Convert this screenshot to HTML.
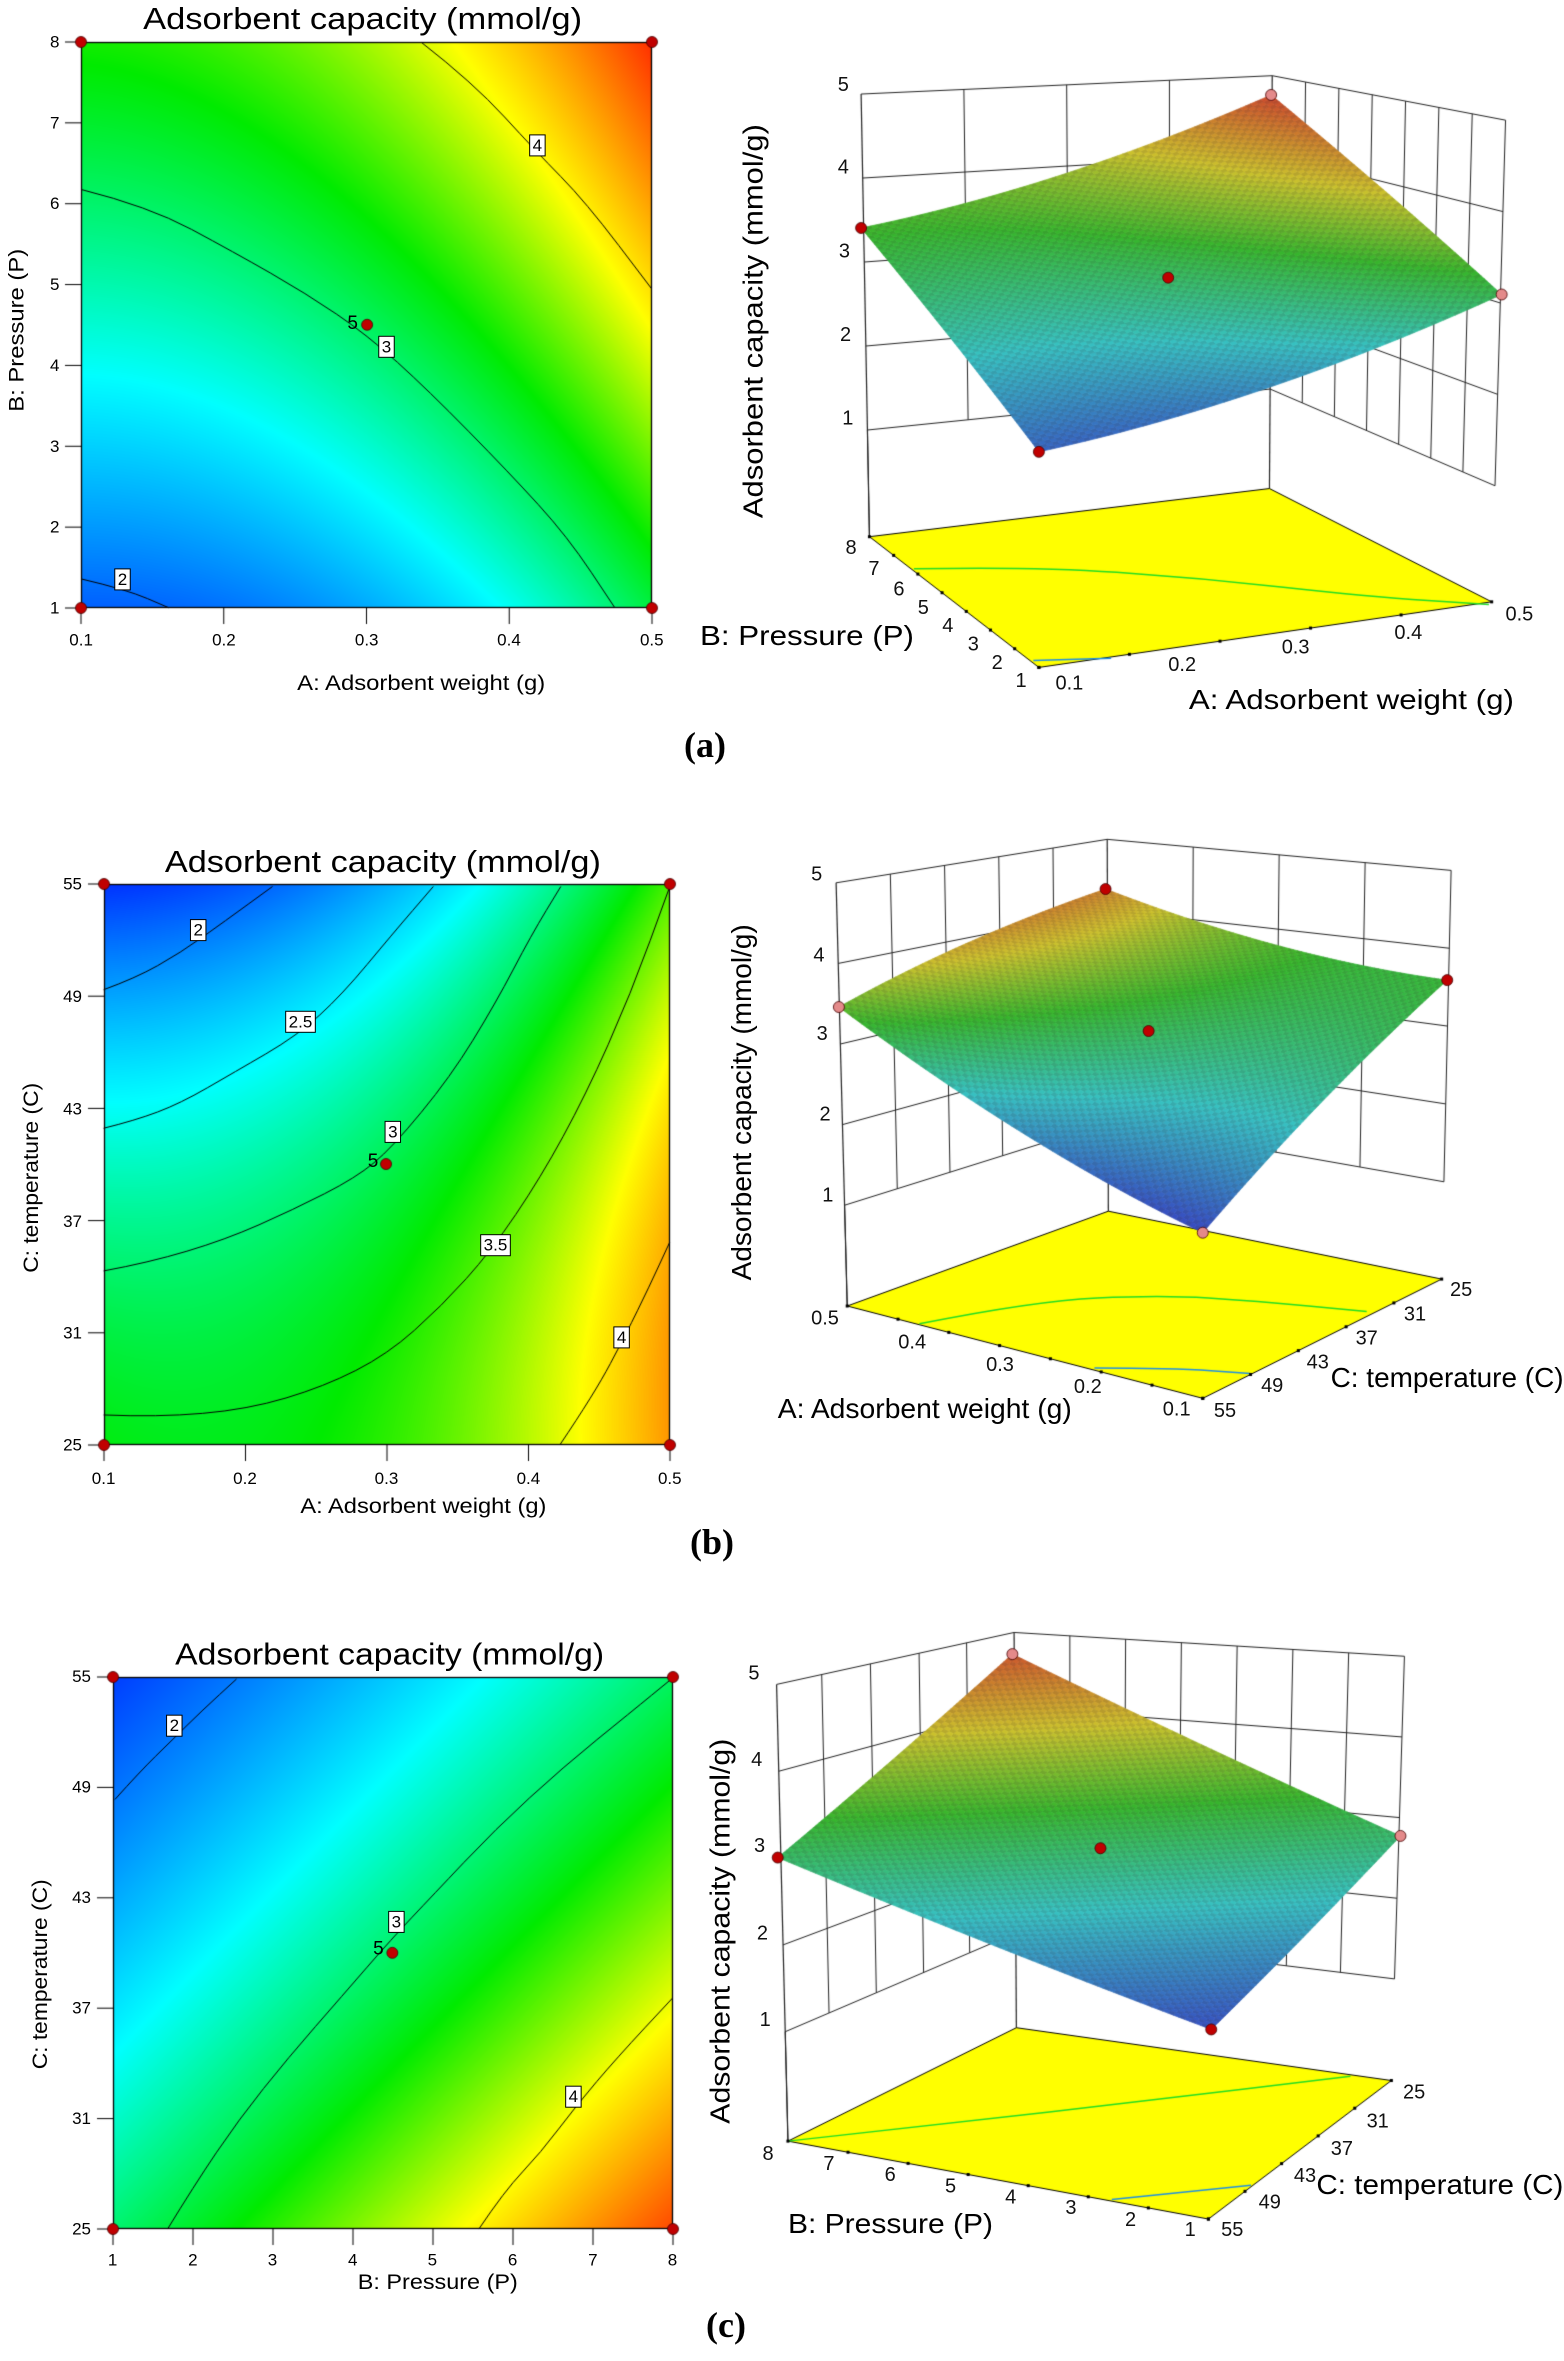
<!DOCTYPE html>
<html><head><meta charset="utf-8">
<style>
html,body{margin:0;padding:0;background:#fff;}
#wrap{position:relative;width:1564px;height:2361px;overflow:hidden;}
canvas,svg{position:absolute;left:0;top:0;}
text{font-family:"Liberation Sans",sans-serif;fill:#000;}
.tt{font-size:31px;}
.tk{font-size:17px;}
.at{font-size:21px;}
.t3{font-size:20px;fill:#111;}
.a3{font-size:28px;}
.lb{font-size:17px;}
.pl{font-family:"Liberation Serif",serif;font-weight:bold;font-size:36px;}
</style></head><body>
<div id="wrap">
<canvas id="c" width="1564" height="2361"></canvas>
<svg id="s" width="1564" height="2361" xmlns="http://www.w3.org/2000/svg">
<g id="lbls"></g>
<g class="fr z4" dominant-baseline="central">
<text class="tt" x="805" y="40" text-anchor="middle" textLength="439" lengthAdjust="spacingAndGlyphs">Adsorbent capacity (mmol/g)</text>
<text class="tk" x="132" y="92" text-anchor="end">8</text>
<text class="tk" x="132" y="268" text-anchor="end">7</text>
<text class="tk" x="132" y="444" text-anchor="end">6</text>
<text class="tk" x="132" y="620" text-anchor="end">5</text>
<text class="tk" x="132" y="797" text-anchor="end">4</text>
<text class="tk" x="132" y="973" text-anchor="end">3</text>
<text class="tk" x="132" y="1149" text-anchor="end">2</text>
<text class="tk" x="132" y="1325" text-anchor="end">1</text>
<text class="tk" x="180" y="1395" text-anchor="middle">0.1</text>
<text class="tk" x="497" y="1395" text-anchor="middle">0.2</text>
<text class="tk" x="814" y="1395" text-anchor="middle">0.3</text>
<text class="tk" x="1130" y="1395" text-anchor="middle">0.4</text>
<text class="tk" x="1447" y="1395" text-anchor="middle">0.5</text>
<text class="at" x="935" y="1490" text-anchor="middle" textLength="248" lengthAdjust="spacingAndGlyphs">A: Adsorbent weight (g)</text>
<text class="at rot" x="38" y="720" text-anchor="middle" textLength="163" lengthAdjust="spacingAndGlyphs">B: Pressure (P)</text>
<text class="lb box" x="1193" y="317" text-anchor="middle">4</text>
<text class="lb box" x="858" y="756" text-anchor="middle">3</text>
<text class="lb box" x="272" y="1263" text-anchor="middle">2</text>
<text class="lb" x="783" y="705" text-anchor="middle" style="font-size:19px">5</text>
</g>
<g class="fr z5" dominant-baseline="central">
<text class="tt" x="850" y="90" text-anchor="middle" textLength="436" lengthAdjust="spacingAndGlyphs">Adsorbent capacity (mmol/g)</text>
<text class="tk" x="182" y="140" text-anchor="end">55</text>
<text class="tk" x="182" y="385" text-anchor="end">49</text>
<text class="tk" x="182" y="630" text-anchor="end">43</text>
<text class="tk" x="182" y="875" text-anchor="end">37</text>
<text class="tk" x="182" y="1118" text-anchor="end">31</text>
<text class="tk" x="182" y="1362" text-anchor="end">25</text>
<text class="tk" x="230" y="1435" text-anchor="middle">0.1</text>
<text class="tk" x="544" y="1435" text-anchor="middle">0.2</text>
<text class="tk" x="858" y="1435" text-anchor="middle">0.3</text>
<text class="tk" x="1173" y="1435" text-anchor="middle">0.4</text>
<text class="tk" x="1487" y="1435" text-anchor="middle">0.5</text>
<text class="at" x="940" y="1497" text-anchor="middle" textLength="246" lengthAdjust="spacingAndGlyphs">A: Adsorbent weight (g)</text>
<text class="at rot" x="70" y="780" text-anchor="middle" textLength="190" lengthAdjust="spacingAndGlyphs">C: temperature (C)</text>
<text class="lb box" x="440" y="240" text-anchor="middle">2</text>
<text class="lb box" x="667" y="440" text-anchor="middle">2.5</text>
<text class="lb box" x="872" y="680" text-anchor="middle">3</text>
<text class="lb box" x="1100" y="927" text-anchor="middle">3.5</text>
<text class="lb box" x="1380" y="1128" text-anchor="middle">4</text>
<text class="lb" x="828" y="745" text-anchor="middle" style="font-size:19px">5</text>
</g>
<g class="fr z6" dominant-baseline="central">
<text class="tt" x="865" y="92" text-anchor="middle" textLength="429" lengthAdjust="spacingAndGlyphs">Adsorbent capacity (mmol/g)</text>
<text class="tk" x="202" y="140" text-anchor="end">55</text>
<text class="tk" x="202" y="372" text-anchor="end">49</text>
<text class="tk" x="202" y="604" text-anchor="end">43</text>
<text class="tk" x="202" y="836" text-anchor="end">37</text>
<text class="tk" x="202" y="1068" text-anchor="end">31</text>
<text class="tk" x="202" y="1300" text-anchor="end">25</text>
<text class="tk" x="250" y="1365" text-anchor="middle">1</text>
<text class="tk" x="428" y="1365" text-anchor="middle">2</text>
<text class="tk" x="605" y="1365" text-anchor="middle">3</text>
<text class="tk" x="783" y="1365" text-anchor="middle">4</text>
<text class="tk" x="960" y="1365" text-anchor="middle">5</text>
<text class="tk" x="1138" y="1365" text-anchor="middle">6</text>
<text class="tk" x="1316" y="1365" text-anchor="middle">7</text>
<text class="tk" x="1493" y="1365" text-anchor="middle">8</text>
<text class="at" x="972" y="1412" text-anchor="middle" textLength="160" lengthAdjust="spacingAndGlyphs">B: Pressure (P)</text>
<text class="at rot" x="90" y="765" text-anchor="middle" textLength="190" lengthAdjust="spacingAndGlyphs">C: temperature (C)</text>
<text class="lb box" x="387" y="243" text-anchor="middle">2</text>
<text class="lb box" x="880" y="655" text-anchor="middle">3</text>
<text class="lb box" x="1273" y="1022" text-anchor="middle">4</text>
<text class="lb" x="840" y="712" text-anchor="middle" style="font-size:19px">5</text>
</g>
<g class="fr z1" dominant-baseline="central">
<text class="t3" x="258" y="185" text-anchor="middle">5</text>
<text class="t3" x="258" y="365" text-anchor="middle">4</text>
<text class="t3" x="260" y="548" text-anchor="middle">3</text>
<text class="t3" x="262" y="730" text-anchor="middle">2</text>
<text class="t3" x="266" y="912" text-anchor="middle">1</text>
<text class="a3 rot" x="95" y="700" text-anchor="middle" textLength="394" lengthAdjust="spacingAndGlyphs">Adsorbent capacity (mmol/g)</text>
<text class="t3" x="272" y="1195" text-anchor="middle">8</text>
<text class="t3" x="313" y="1240" text-anchor="middle">7</text>
<text class="t3" x="358" y="1285" text-anchor="middle">6</text>
<text class="t3" x="402" y="1325" text-anchor="middle">5</text>
<text class="t3" x="446" y="1365" text-anchor="middle">4</text>
<text class="t3" x="492" y="1405" text-anchor="middle">3</text>
<text class="t3" x="535" y="1445" text-anchor="middle">2</text>
<text class="t3" x="578" y="1485" text-anchor="middle">1</text>
<text class="t3" x="665" y="1490" text-anchor="middle">0.1</text>
<text class="t3" x="868" y="1450" text-anchor="middle">0.2</text>
<text class="t3" x="1072" y="1412" text-anchor="middle">0.3</text>
<text class="t3" x="1275" y="1380" text-anchor="middle">0.4</text>
<text class="t3" x="1475" y="1340" text-anchor="middle">0.5</text>
<text class="a3" x="0" y="1385" textLength="214" lengthAdjust="spacingAndGlyphs">B: Pressure (P)</text>
<text class="a3" x="880" y="1525" textLength="325" lengthAdjust="spacingAndGlyphs">A: Adsorbent weight (g)</text>
</g>
<g class="fr z2" dominant-baseline="central">
<text class="t3" x="210" y="180" text-anchor="middle">5</text>
<text class="t3" x="214" y="375" text-anchor="middle">4</text>
<text class="t3" x="220" y="565" text-anchor="middle">3</text>
<text class="t3" x="225" y="760" text-anchor="middle">2</text>
<text class="t3" x="230" y="955" text-anchor="middle">1</text>
<text class="a3 rot" x="75" y="730" text-anchor="middle" textLength="356" lengthAdjust="spacingAndGlyphs">Adsorbent capacity (mmol/g)</text>
<text class="t3" x="225" y="1252" text-anchor="middle">0.5</text>
<text class="t3" x="382" y="1310" text-anchor="middle">0.4</text>
<text class="t3" x="540" y="1365" text-anchor="middle">0.3</text>
<text class="t3" x="698" y="1418" text-anchor="middle">0.2</text>
<text class="t3" x="858" y="1472" text-anchor="middle">0.1</text>
<text class="t3" x="1370" y="1183" text-anchor="middle">25</text>
<text class="t3" x="1287" y="1243" text-anchor="middle">31</text>
<text class="t3" x="1200" y="1300" text-anchor="middle">37</text>
<text class="t3" x="1112" y="1358" text-anchor="middle">43</text>
<text class="t3" x="1030" y="1415" text-anchor="middle">49</text>
<text class="t3" x="945" y="1475" text-anchor="middle">55</text>
<text class="a3" x="140" y="1470" textLength="294" lengthAdjust="spacingAndGlyphs">A: Adsorbent weight (g)</text>
<text class="a3" x="1135" y="1395" textLength="233" lengthAdjust="spacingAndGlyphs">C: temperature (C)</text>
</g>
<g class="fr z3" dominant-baseline="central">
<text class="t3" x="130" y="170" text-anchor="middle">5</text>
<text class="t3" x="135" y="370" text-anchor="middle">4</text>
<text class="t3" x="140" y="568" text-anchor="middle">3</text>
<text class="t3" x="145" y="770" text-anchor="middle">2</text>
<text class="t3" x="150" y="970" text-anchor="middle">1</text>
<text class="a3 rot" x="70" y="765" text-anchor="middle" textLength="385" lengthAdjust="spacingAndGlyphs">Adsorbent capacity (mmol/g)</text>
<text class="t3" x="155" y="1280" text-anchor="middle">8</text>
<text class="t3" x="262" y="1303" text-anchor="middle">7</text>
<text class="t3" x="370" y="1328" text-anchor="middle">6</text>
<text class="t3" x="476" y="1355" text-anchor="middle">5</text>
<text class="t3" x="582" y="1380" text-anchor="middle">4</text>
<text class="t3" x="688" y="1405" text-anchor="middle">3</text>
<text class="t3" x="793" y="1432" text-anchor="middle">2</text>
<text class="t3" x="898" y="1455" text-anchor="middle">1</text>
<text class="t3" x="1292" y="1138" text-anchor="middle">25</text>
<text class="t3" x="1228" y="1205" text-anchor="middle">31</text>
<text class="t3" x="1165" y="1268" text-anchor="middle">37</text>
<text class="t3" x="1100" y="1330" text-anchor="middle">43</text>
<text class="t3" x="1038" y="1392" text-anchor="middle">49</text>
<text class="t3" x="972" y="1455" text-anchor="middle">55</text>
<text class="a3" x="190" y="1440" textLength="205" lengthAdjust="spacingAndGlyphs">B: Pressure (P)</text>
<text class="a3" x="1120" y="1350" textLength="247" lengthAdjust="spacingAndGlyphs">C: temperature (C)</text>
</g>
<g dominant-baseline="central" text-anchor="middle">
<text class="pl" x="705" y="745">(a)</text>
<text class="pl" x="712" y="1542">(b)</text>
<text class="pl" x="726" y="2325">(c)</text>
</g>
</svg>
</div>
<script>
const FR={z1:[700,0,1.8,2.18],z2:[700,800,1.8,2.415],z3:[680,1600,1.76,2.31],z4:[0,0,2.22,2.18],z5:[0,820,2.22,2.18],z6:[0,1610,2.22,2.1]};
function P(fr,p){const f=FR[fr];return [f[0]+p[0]/f[2],f[1]+p[1]/f[3]];}
const cv=document.getElementById('c');const ctx=cv.getContext('2d');
ctx.fillStyle='#fff';ctx.fillRect(0,0,1564,2361);
const ST=[[1.6,[0,50,255]],[2.5,[0,255,255]],[3.3,[0,235,0]],[4.0,[255,255,0]],[4.9,[255,20,0]]];
function jet(v){if(v<=ST[0][0])return ST[0][1];for(let i=1;i<ST.length;i++){if(v<=ST[i][0]){const t=(v-ST[i-1][0])/(ST[i][0]-ST[i-1][0]);const a=ST[i-1][1],b=ST[i][1];return [a[0]+(b[0]-a[0])*t,a[1]+(b[1]-a[1])*t,a[2]+(b[2]-a[2])*t];}}return ST[ST.length-1][1];}
function mk(b){return (u,w)=>b[0]+b[1]*u+b[2]*w+b[3]*u*w+b[4]*u*u+b[5]*w*w;}
const MA=mk([3.0,0.6875,0.8125,0.0375,0.326,-0.063]);
const MB=mk([3.05,0.7625,-0.6375,0.1875,0.407,-0.27]);
const MC=mk([2.98,0.775,-0.75,-0.1,0.05,0.045]);
function smooth(pts,color,w){ctx.strokeStyle=color;ctx.lineWidth=w;ctx.beginPath();ctx.moveTo(pts[0][0],pts[0][1]);
 for(let i=1;i<pts.length-1;i++){const mx=(pts[i][0]+pts[i+1][0])/2,my=(pts[i][1]+pts[i+1][1])/2;ctx.quadraticCurveTo(pts[i][0],pts[i][1],mx,my);}
 const l=pts[pts.length-1];ctx.lineTo(l[0],l[1]);ctx.stroke();}
function line(a,b,c,w){ctx.strokeStyle=c||'#000';ctx.lineWidth=w||1;ctx.beginPath();ctx.moveTo(a[0],a[1]);ctx.lineTo(b[0],b[1]);ctx.stroke();}
function dot(p,c){ctx.fillStyle=c;ctx.beginPath();ctx.arc(p[0],p[1],5.5,0,7);ctx.fill();ctx.strokeStyle='#400';ctx.lineWidth=0.8;ctx.stroke();}
function contour(fr,r,model,lines,nx,ny,center){
 const p1=P(fr,[r[0],r[1]]),p2=P(fr,[r[2],r[3]]);
 const X1=Math.round(p1[0]),Y1=Math.round(p1[1]),X2=Math.round(p2[0]),Y2=Math.round(p2[1]);
 const W=X2-X1,H=Y2-Y1;const id=ctx.createImageData(W,H);
 for(let y=0;y<H;y++)for(let x=0;x<W;x++){const u=-1+2*(x+0.5)/W,w=1-2*(y+0.5)/H;const c=jet(model(u,w));const k=(y*W+x)*4;id.data[k]=c[0];id.data[k+1]=c[1];id.data[k+2]=c[2];id.data[k+3]=255;}
 ctx.putImageData(id,X1,Y1);
 lines.forEach(l=>smooth(l.map(p=>P(fr,p)),'#000',1));
 ctx.strokeStyle='#000';ctx.lineWidth=1.3;ctx.strokeRect(X1+0.5,Y1+0.5,W-1,H-1);
 for(let i=0;i<nx;i++){const x=X1+W*i/(nx-1);line([x,Y2],[x,Y2+16]);}
 for(let i=0;i<ny;i++){const y=Y1+H*i/(ny-1);line([X1-16,y],[X1,y]);}
 [[X1,Y1],[X2,Y1],[X1,Y2],[X2,Y2]].forEach(p=>dot(p,'#c00000'));
 dot(P(fr,center),'#c00000');
}
contour('z4',[180,92,1447,1325],MA,[
 [[180,413],[330,450],[520,550],[680,640],[815,730],[950,850],[1130,1030],[1260,1170],[1365,1325]],
 [[935,92],[1050,180],[1190,330],[1300,440],[1447,630]],
 [[180,1262],[280,1285],[375,1325]]],5,8,[815,708]);
contour('z5',[230,140,1487,1362],MB,[
 [[230,370],[300,345],[400,290],[500,220],[605,145]],
 [[230,672],[300,655],[400,618],[520,550],[660,470],[760,380],[870,250],[962,145]],
 [[230,983],[330,965],[500,915],[650,850],[790,780],[870,715],[1000,560],[1100,400],[1180,250],[1245,145]],
 [[230,1297],[350,1302],[550,1285],[720,1235],[860,1165],[980,1060],[1090,940],[1200,780],[1300,600],[1400,380],[1487,145]],
 [[1243,1362],[1320,1250],[1390,1120],[1440,1020],[1487,920]]],5,6,[857,750]);
contour('z6',[250,140,1493,1300],MC,[
 [[255,398],[310,340],[380,275],[450,210],[525,145]],
 [[372,1300],[430,1210],[530,1070],[640,940],[760,810],[870,690],[960,600],[1100,460],[1250,330],[1400,215],[1493,143]],
 [[1063,1300],[1120,1220],[1200,1140],[1280,1040],[1370,940],[1493,815]]],8,6,[871,720]);

function lerp(a,b,t){return [a[0]+(b[0]-a[0])*t,a[1]+(b[1]-a[1])*t];}
function bil(c00,c10,c01,c11,a,b){return [ (1-a)*(1-b)*c00[0]+a*(1-b)*c10[0]+(1-a)*b*c01[0]+a*b*c11[0], (1-a)*(1-b)*c00[1]+a*(1-b)*c10[1]+(1-a)*b*c01[1]+a*b*c11[1]];}
function plot3d(o){
 const f=o.fr;const T=p=>P(f,p);
 const Lt=T(o.Lt),Lb=T(o.Lb),Bt=T(o.Bt),Bb=T(o.Bb),Rt=T(o.Rt),Rb=T(o.Rb),F=T(o.F);
 const z0=o.z0,zs=t=>(t-z0)/(5-z0);
 const Lz=z=>lerp(Lb,Lt,zs(z)),Bz=z=>lerp(Bb,Bt,zs(z)),Rz=z=>lerp(Rb,Rt,zs(z));
 const g='#222';
 for(let z=1;z<=5;z++){line(Lz(z),Bz(z),g,1);line(Bz(z),Rz(z),g,1);}
 o.ls.forEach(s=>line(lerp(Lt,Bt,s),lerp(Lz(1),Bz(1),s),g,1));
 o.rs.forEach(s=>line(lerp(Bt,Rt,s),lerp(Bz(1),Rz(1),s),g,1));
 line(Lt,Lb,g,1.2);line(Bt,Bb,g,1.2);line(Rt,Rz(1),g,1);line(Lz(1),Lb,g,1);
 ctx.fillStyle='#ffff00';ctx.beginPath();ctx.moveTo(Lb[0],Lb[1]);ctx.lineTo(Bb[0],Bb[1]);ctx.lineTo(Rb[0],Rb[1]);ctx.lineTo(F[0],F[1]);ctx.closePath();ctx.fill();
 ctx.strokeStyle='#000';ctx.lineWidth=1;ctx.stroke();
 smooth(o.fg.map(T),'#22dd22',1.5);smooth(o.fb.map(T),'#1f8fe0',1.5);
 function dotS(p){ctx.fillStyle='#000';ctx.fillRect(p[0]-1.5,p[1]-1.5,3,3);}
 for(let i=0;i<=7;i++){dotS(lerp(Lb,F,i/7));}
 for(let i=0;i<=5;i++){dotS(lerp(F,Rb,i/5));}
 const cm=o.map;
 const kv={L:(Lb[1]-Lt[1])/(5-z0),B:(Bb[1]-Bt[1])/(5-z0),R:(Rb[1]-Rt[1])/(5-z0)};kv.F=kv.L+kv.R-kv.B;
 const S=o.S.map(T);const m=o.model;
 const fc=[m(-1,-1),m(1,-1),m(-1,1),m(1,1)];const kc=cm.map(n=>kv[n]);
 function pt(u,w){const a=(u+1)/2,b=(w+1)/2;const p=bil(S[0],S[1],S[2],S[3],a,b);
  const fb=(1-a)*(1-b)*fc[0]+a*(1-b)*fc[1]+(1-a)*b*fc[2]+a*b*fc[3];
  const k=(1-a)*(1-b)*kc[0]+a*(1-b)*kc[1]+(1-a)*b*kc[2]+a*b*kc[3];
  return [p[0],p[1]-(m(u,w)-fb)*k*o.cf];}
 const N=80;
 for(let i=0;i<N;i++)for(let j=0;j<N;j++){
  const u0=-1+2*i/N,u1=-1+2*(i+1)/N,w0=-1+2*j/N,w1=-1+2*(j+1)/N;
  const a=pt(u0,w0),b=pt(u1,w0),c=pt(u1,w1),d=pt(u0,w1);
  const v=m((u0+u1)/2,(w0+w1)/2);const col=jet(v);
  const sh=((i+j)%2)?0.58:0.5;
  const cs='rgb('+Math.round(col[0]*sh+55)+','+Math.round(col[1]*sh+45)+','+Math.round(col[2]*sh+45)+')';
  ctx.fillStyle=cs;ctx.strokeStyle=cs;ctx.lineWidth=0.7;
  ctx.beginPath();ctx.moveTo(a[0],a[1]);ctx.lineTo(b[0],b[1]);ctx.lineTo(c[0],c[1]);ctx.lineTo(d[0],d[1]);ctx.closePath();ctx.fill();ctx.stroke();
 }
 const cps=[[-1,-1],[1,-1],[-1,1],[1,1]];
 cps.forEach((c,i)=>dot(pt(c[0],c[1]),o.pink.includes(i)?'#e48a8a':'#c00000'));
 dot(pt(0,0),'#c00000');
}
plot3d({fr:'z1',Lt:[290,205],Lb:[305,1170],Bt:[1030,165],Bb:[1025,1065],Rt:[1450,262],Rb:[1425,1312],F:[610,1455],z0:-0.27,cf:0.45,
 map:['F','R','L','B'],S:[[610,985],[1443,642],[290,497],[1028,207]],model:MA,pink:[1,3],
 ls:[0.25,0.5,0.75],rs:[1/7,2/7,3/7,4/7,5/7,6/7],
 fg:[[385,1240],[600,1235],[900,1260],[1200,1300],[1420,1318]],fb:[[600,1440],[740,1435]]});
plot3d({fr:'z2',Lt:[245,200],Lb:[265,1222],Bt:[733,95],Bb:[735,993],Rt:[1352,170],Rb:[1335,1157],F:[905,1445],z0:-0.25,cf:0.35,
 map:['R','B','F','L'],S:[[1345,435],[730,215],[905,1045],[250,500]],model:MB,pink:[2,3],
 ls:[0.2,0.4,0.6,0.8],rs:[0.25,0.5,0.75],
 fg:[[395,1265],[600,1210],[830,1195],[1000,1210],[1200,1235]],fb:[[710,1372],[850,1372],[990,1385]]});
plot3d({fr:'z3',Lt:[170,195],Lb:[190,1250],Bt:[588,75],Bb:[592,988],Rt:[1275,130],Rb:[1252,1110],F:[930,1430],z0:-0.26,cf:0.5,
 map:['R','B','F','L'],S:[[1268,545],[585,125],[935,992],[172,595]],model:MC,pink:[0,1],
 ls:[0.19,0.395,0.6,0.8],rs:[1/7,2/7,3/7,4/7,5/7,6/7],
 fg:[[190,1250],[500,1205],[800,1160],[1180,1100]],fb:[[760,1385],[1005,1352]]});

const lg=document.getElementById('lbls');
document.querySelectorAll('g.fr').forEach(g=>{const fr=g.getAttribute('class').split(' ')[1];
 g.querySelectorAll('text').forEach(t=>{const p=P(fr,[+t.getAttribute('x'),+t.getAttribute('y')]);
  t.setAttribute('x',p[0].toFixed(1));t.setAttribute('y',p[1].toFixed(1));
  if(t.classList.contains('rot'))t.setAttribute('transform','rotate(-90 '+p[0].toFixed(1)+' '+p[1].toFixed(1)+')');
  if(t.classList.contains('box')){const bb=t.getBBox();const r=document.createElementNS('http://www.w3.org/2000/svg','rect');
   r.setAttribute('x',bb.x-3);r.setAttribute('y',bb.y-1);r.setAttribute('width',bb.width+6);r.setAttribute('height',bb.height+2);
   r.setAttribute('fill','#fff');r.setAttribute('stroke','#000');r.setAttribute('stroke-width','1');lg.appendChild(r);}
 });});
</script>
</body></html>
